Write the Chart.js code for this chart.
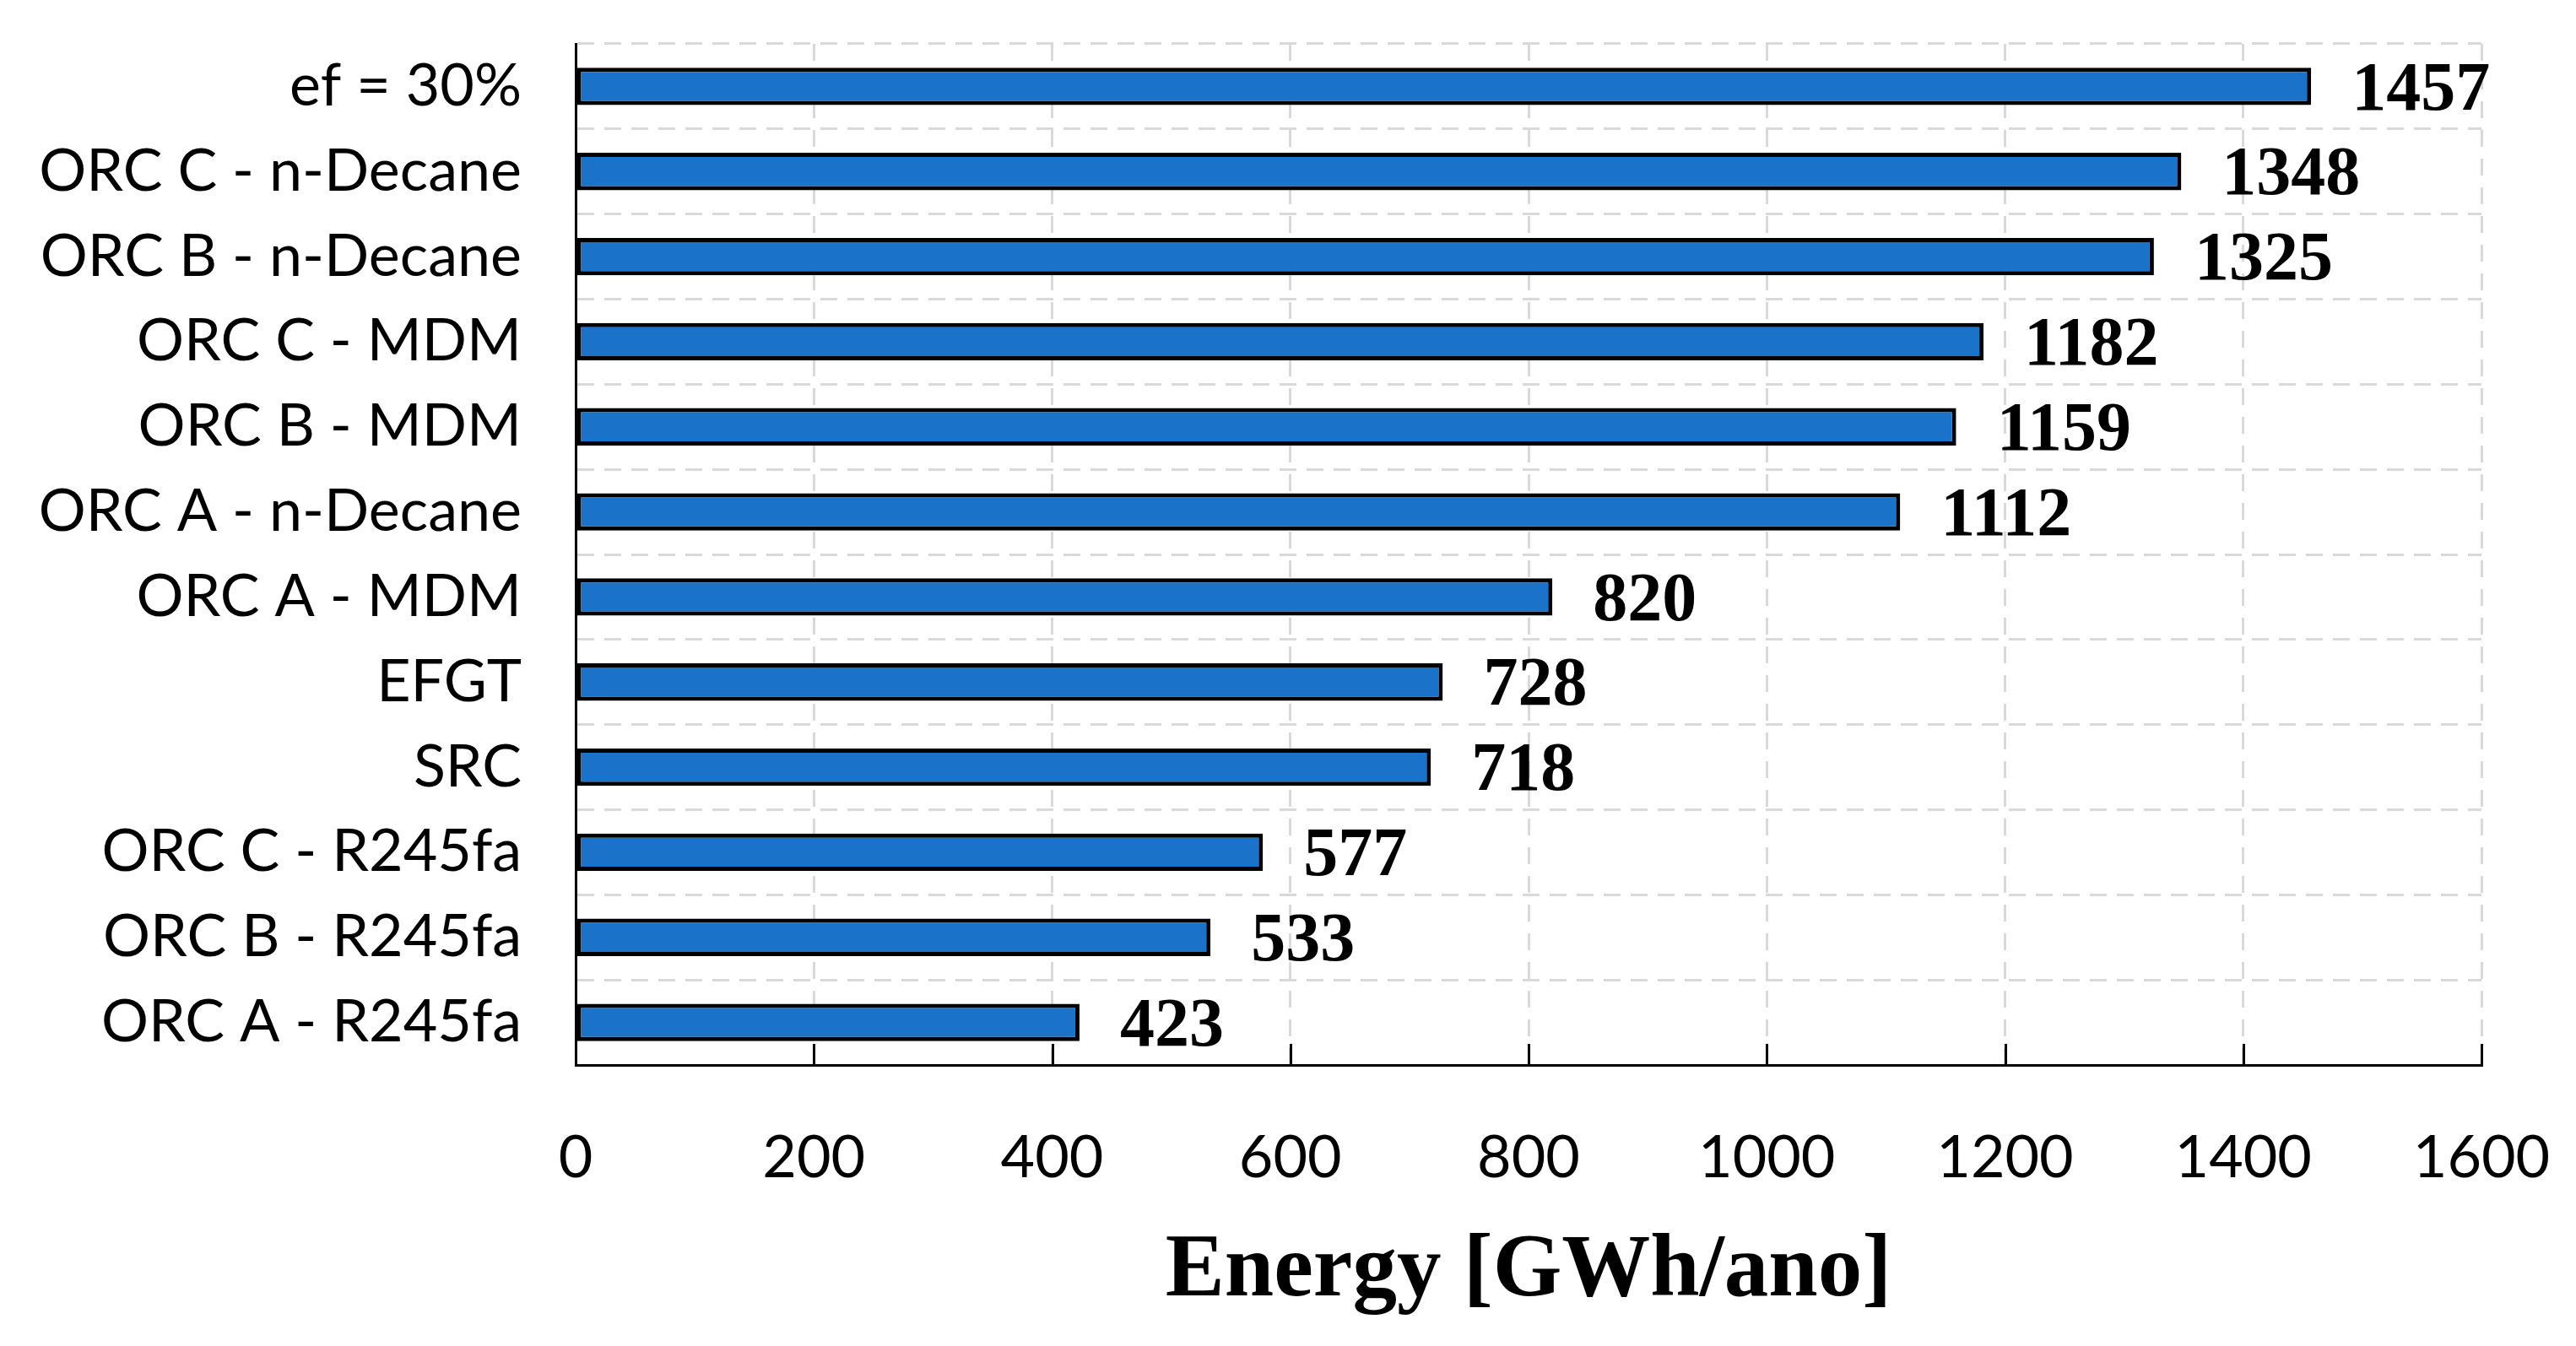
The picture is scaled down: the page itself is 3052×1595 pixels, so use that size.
<!DOCTYPE html>
<html>
<head>
<meta charset="utf-8">
<title>Energy</title>
<script src="https://cdn.jsdelivr.net/npm/chart.js@4.4.1/dist/chart.umd.min.js"></script>
<style>
  html, body { margin: 0; padding: 0; background: #fff; }
  #wrap { width: 3052px; height: 1595px; }
</style>
</head>
<body>
<div id="wrap"><canvas id="energyChart"></canvas></div>
<script>
const categories = [
    'ef = 30%', 'ORC C - n-Decane', 'ORC B - n-Decane', 'ORC C - MDM',
    'ORC B - MDM', 'ORC A - n-Decane', 'ORC A - MDM', 'EFGT', 'SRC',
    'ORC C - R245fa', 'ORC B - R245fa', 'ORC A - R245fa'
];
const energyValues = [1457, 1348, 1325, 1182, 1159, 1112, 820, 728, 718, 577, 533, 423];
const xTicks = [0, 200, 400, 600, 800, 1000, 1200, 1400, 1600];

const serifFont = "'Liberation Serif', 'DejaVu Serif', serif";

// use a narrow sans if it is installed, otherwise Lato
function pickLabelFont() {
    const c = document.createElement('canvas').getContext('2d');
    const probe = 'ORC C - n-Decane';
    c.font = "76px monospace";
    const base = c.measureText(probe).width;
    c.font = "76px 'Liberation Sans Narrow', monospace";
    const narrow = c.measureText(probe).width;
    if (Math.abs(narrow - base) > 1) {
        return { family: "'Liberation Sans Narrow', sans-serif", size: 76 };
    }
    return { family: "Lato, 'Noto Sans', sans-serif", size: 70 };
}
const labelFont = pickLabelFont();

// value labels to the right of each bar
const valueLabels = {
    id: 'valueLabels',
    afterDatasetsDraw(chart) {
        const ctx = chart.ctx;
        const meta = chart.getDatasetMeta(0);
        ctx.save();
        ctx.font = 'bold 82px ' + serifFont;
        ctx.fillStyle = '#000';
        ctx.textAlign = 'left';
        ctx.textBaseline = 'middle';
        meta.data.forEach((bar, i) => {
            ctx.fillText(String(energyValues[i]), bar.x + 48, bar.y + 6);
        });
        ctx.restore();
    }
};

// small tick marks pointing up from the x axis
const innerTicks = {
    id: 'innerTicks',
    afterDatasetsDraw(chart) {
        const ctx = chart.ctx;
        const x = chart.scales.x;
        const bottom = chart.chartArea.bottom;
        ctx.save();
        ctx.strokeStyle = '#000';
        ctx.lineWidth = 3;
        xTicks.forEach(v => {
            const px = Math.round(x.getPixelForValue(v)) + 0.5;
            ctx.beginPath();
            ctx.moveTo(px, bottom);
            ctx.lineTo(px, bottom - 25);
            ctx.stroke();
        });
        ctx.restore();
    }
};

const ctx = document.getElementById('energyChart').getContext('2d');
const myChart = new Chart(ctx, {
    type: 'bar',
    data: {
        labels: categories,
        datasets: [{
            data: energyValues,
            backgroundColor: '#1a73c8',
            borderColor: '#000',
            borderWidth: 5,
            borderSkipped: false,
            barPercentage: 0.44,
            categoryPercentage: 1.0
        }]
    },
    options: {
        indexAxis: 'y',
        responsive: true,
        maintainAspectRatio: false,
        animation: false,
        devicePixelRatio: 1,
        layout: { padding: { left: 0, top: 52, right: 112, bottom: 0 } },
        plugins: {
            legend: { display: false },
            tooltip: { enabled: false }
        },
        scales: {
            x: {
                min: 0,
                max: 1600,
                afterBuildTicks(scale) {
                    scale.ticks = xTicks.map(v => ({ value: v }));
                },
                afterFit(scale) {
                    scale.height = 333;
                    scale.paddingLeft = 0;
                    scale.paddingRight = 0;
                },
                grid: {
                    color: '#d9d9d9',
                    lineWidth: 3,
                    drawTicks: false
                },
                border: { display: true, color: '#000', width: 3, dash: [20, 14] },
                ticks: {
                    color: '#000',
                    padding: 68,
                    font: { family: labelFont.family, size: labelFont.size },
                    callback: (v) => String(v)
                },
                title: {
                    display: true,
                    text: 'Energy [GWh/ano]',
                    color: '#000',
                    padding: { top: 0, bottom: 24 },
                    font: { family: serifFont, size: 105, weight: 'bold' }
                }
            },
            y: {
                afterFit(scale) {
                    scale.width = 682;
                    scale.paddingTop = 0;
                    scale.paddingBottom = 0;
                },
                grid: {
                    color: (c) => c.index === categories.length ? 'rgba(0,0,0,0)' : '#d9d9d9',
                    lineWidth: 3,
                    drawTicks: false
                },
                border: { display: true, color: '#000', width: 3, dash: [20, 12] },
                ticks: {
                    color: '#000',
                    padding: 64,
                    font: { family: labelFont.family, size: labelFont.size }
                }
            }
        }
    },
    plugins: [valueLabels, innerTicks]
});
</script>
</body>
</html>
